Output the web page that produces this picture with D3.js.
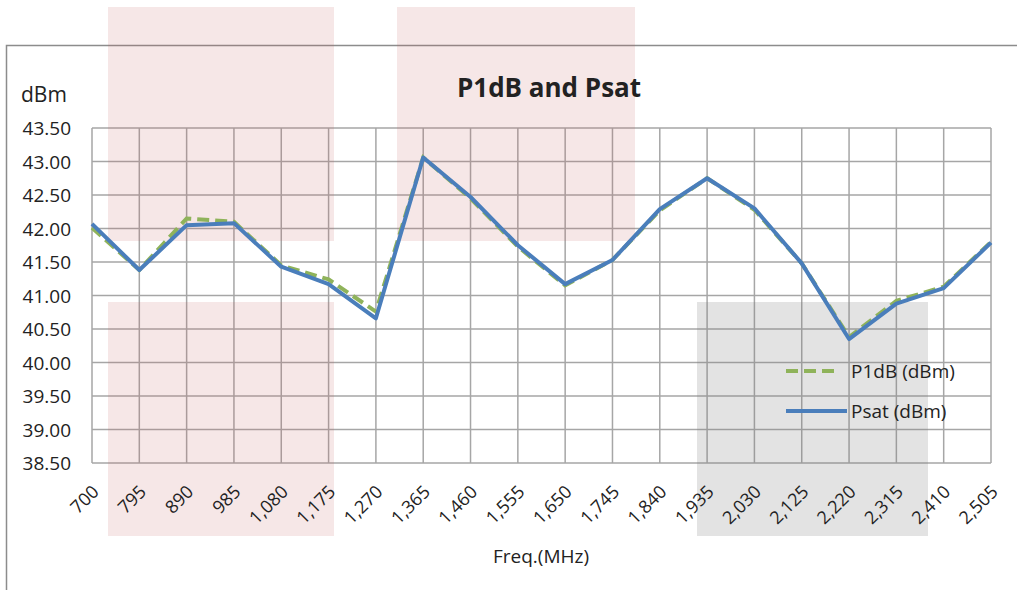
<!DOCTYPE html>
<html>
<head>
<meta charset="utf-8">
<script src="https://cdn.jsdelivr.net/npm/d3@7"></script>
<style>
  body { margin: 0; background: #fff; }
  text { font-family: "Open Sans", "Noto Sans", sans-serif; fill: #222; }
</style>
</head>
<body>
<svg></svg>
<script>
let width = 1017, height = 590;
let svg = d3.select("svg")
    .attr("width", width)
    .attr("height", height);

// Data
var freqs = [700, 795, 890, 985, 1080, 1175, 1270, 1365, 1460, 1555,
             1650, 1745, 1840, 1935, 2030, 2125, 2220, 2315, 2410, 2505];
var p1db = [42.01, 41.38, 42.15, 42.10, 41.45, 41.24, 40.76, 43.06, 42.45, 41.73,
            41.15, 41.53, 42.27, 42.75, 42.28, 41.48, 40.38, 40.92, 41.13, 41.80];
var psat = [42.07, 41.38, 42.05, 42.08, 41.43, 41.17, 40.66, 43.06, 42.47, 41.75,
            41.17, 41.53, 42.29, 42.75, 42.30, 41.48, 40.35, 40.88, 41.11, 41.79];
var yTicks = [38.5, 39, 39.5, 40, 40.5, 41, 41.5, 42, 42.5, 43, 43.5];

var plotL = 92, plotR = 991, plotT = 128, plotB = 463;

var x = d3.scalePoint().domain(freqs).range([plotL, plotR]);
var y = d3.scaleLinear().domain([38.5, 43.5]).range([plotB, plotT]);

// chart frame
svg.append("path")
    .attr("d", "M6.5,590 L6.5,45.5 L1017,45.5")
    .attr("fill", "none")
    .attr("stroke", "#8c8c8c")
    .attr("stroke-width", 1.5);

// grid
var grid = svg.append("g");
grid.selectAll(".h").data(yTicks).enter().append("line")
    .attr("x1", plotL).attr("x2", plotR)
    .attr("y1", d => y(d)).attr("y2", d => y(d))
    .attr("stroke", "#a6a6a6").attr("stroke-width", 1.5);
grid.selectAll(".v").data(freqs).enter().append("line")
    .attr("x1", d => x(d)).attr("x2", d => x(d))
    .attr("y1", plotT).attr("y2", plotB)
    .attr("stroke", "#a6a6a6").attr("stroke-width", 1.5);

// shaded overlays
var boxes = [
  [108, 7, 226, 234, "pink"], [108, 302, 226, 234, "pink"],
  [397, 7, 238, 234, "pink"], [697, 302, 231, 234, "gray"]
];
svg.selectAll(".box").data(boxes).enter().append("rect")
    .attr("x", d => d[0]).attr("y", d => d[1])
    .attr("width", d => d[2]).attr("height", d => d[3])
    .attr("fill", d => d[4] == "pink" ? "#c06060" : "#808080")
    .attr("opacity", d => d[4] == "pink" ? 0.15 : 0.22);

// axis labels
svg.selectAll(".yl").data(yTicks).enter().append("text")
    .attr("x", 71).attr("y", d => y(d))
    .attr("text-anchor", "end")
    .attr("dominant-baseline", "central")
    .style("font-size", "19px")
    .text(d => d.toFixed(2));

svg.selectAll(".xl").data(freqs).enter().append("text")
    .attr("transform", d => "translate(" + (x(d) + 3) + "," + 488 + ") rotate(-45)")
    .attr("text-anchor", "end")
    .attr("dominant-baseline", "central")
    .style("font-size", "18px")
    .text(d => d3.format(",")(d));

svg.append("text").attr("x", 21).attr("y", 102)
    .style("font-size", "21px").text("dBm");

svg.append("text").attr("x", 549).attr("y", 97)
    .attr("text-anchor", "middle")
    .style("font-size", "26px").style("font-weight", "bold")
    .text("P1dB and Psat");

svg.append("text").attr("x", 541).attr("y", 563)
    .attr("text-anchor", "middle")
    .style("font-size", "19px")
    .text("Freq.(MHz)");

// lines
var line = d3.line()
    .x((d, i) => x(freqs[i]))
    .y(d => y(d));

svg.append("path")
    .attr("d", line(p1db))
    .attr("fill", "none")
    .attr("stroke", "#8fb35a")
    .attr("stroke-width", 4)
    .attr("stroke-dasharray", "12,6");

svg.append("path")
    .attr("d", line(psat))
    .attr("fill", "none")
    .attr("stroke", "#4a7ebb")
    .attr("stroke-width", 4)
    .attr("stroke-linejoin", "round");

// legend
var legend = [["P1dB (dBm)", "#8fb35a", "12,6", 371, 839], ["Psat (dBm)", "#4a7ebb", null, 411, 847]];
legend.forEach(function(l) {
  svg.append("line")
    .attr("x1", 786).attr("x2", l[4])
    .attr("y1", l[3]).attr("y2", l[3])
    .attr("stroke", l[1]).attr("stroke-width", 4)
    .attr("stroke-dasharray", l[2]);
  svg.append("text")
    .attr("x", 851).attr("y", l[3])
    .attr("dominant-baseline", "central")
    .style("font-size", "19px")
    .text(l[0]);
});
</script>
</body>
</html>
